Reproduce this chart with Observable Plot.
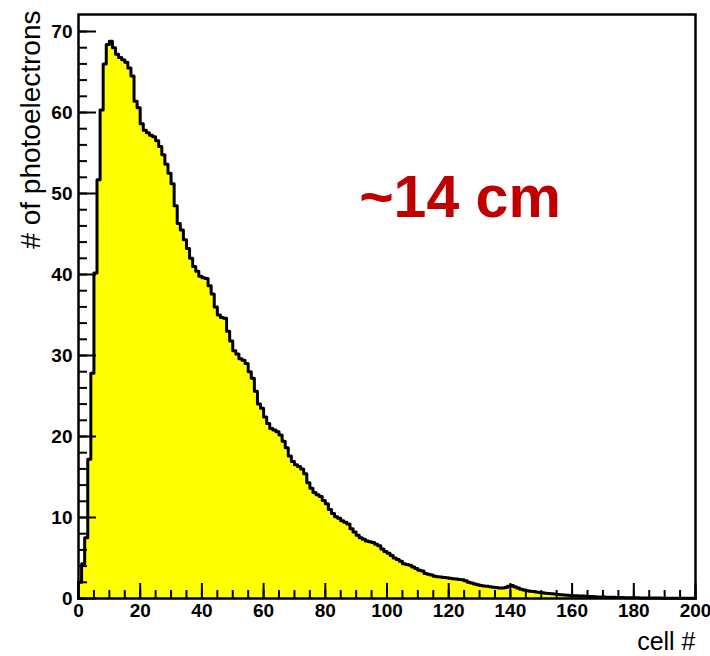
<!DOCTYPE html>
<html>
<head>
<meta charset="utf-8">
<script src="https://cdn.jsdelivr.net/npm/d3@7"></script>
<script src="https://cdn.jsdelivr.net/npm/@observablehq/plot@0.6"></script>
<style>
  html, body { margin: 0; padding: 0; background: #fff; }
  #chart { width: 710px; height: 656px; }
</style>
</head>
<body>
<div id="chart"></div>
<script>
// Histogram content: number of photoelectrons per cell (bins of width 1, cells 0..199)
const counts = [
  2, 4.3, 7.5, 17.2, 27.8, 40.2, 51.7, 60.3, 66, 68.4,
  68.8, 68, 67.2, 66.8, 66.5, 66.2, 65.5, 64.5, 61.4, 60.6,
  58.6, 57.8, 57.5, 57.2, 57, 56.5, 55.8, 54.8, 53.6, 52.5,
  51.2, 48.5, 46.3, 45.5, 44.3, 43.2, 42, 41, 40.4, 39.8,
  39.6, 39.5, 38.6, 37.6, 36, 35, 34.7, 34.6, 33, 31.8,
  30.6, 30.2, 29.6, 29.4, 29, 28, 27.2, 25.6, 24, 23.5,
  22.4, 21.6, 21, 20.8, 20.6, 20.2, 19.4, 18.6, 17.6, 16.9,
  16.5, 16.3, 16, 15.4, 14.3, 13.6, 13.1, 12.8, 12.6, 12.1,
  11.7, 11, 10.5, 10.1, 9.9, 9.6, 9.4, 9.2, 8.6, 8.2,
  7.8, 7.5, 7.3, 7.1, 7.0, 6.9, 6.7, 6.5, 6.1, 5.8,
  5.6, 5.3, 5.0, 4.8, 4.6, 4.3, 4.2, 4.1, 3.9, 3.7,
  3.5, 3.4, 3.1, 3.0, 2.9, 2.75, 2.7, 2.65, 2.6, 2.55,
  2.5, 2.45, 2.4, 2.35, 2.3, 2.2, 2.0, 1.9, 1.8, 1.7,
  1.6, 1.55, 1.5, 1.45, 1.4, 1.35, 1.3, 1.3, 1.35, 1.5,
  1.6, 1.45, 1.3, 1.15, 1.05, 0.95, 0.9, 0.85, 0.8, 0.75,
  0.7, 0.65, 0.62, 0.58, 0.55, 0.5, 0.46, 0.43, 0.4, 0.38,
  0.35, 0.33, 0.3, 0.3, 0.28, 0.26, 0.24, 0.22, 0.2, 0.19,
  0.18, 0.16, 0.15, 0.14, 0.13, 0.12, 0.11, 0.1, 0.1, 0.09,
  0.08, 0.08, 0.07, 0.07, 0.06, 0.06, 0.05, 0.05, 0.05, 0.04,
  0.04, 0.04, 0.03, 0.03, 0.03, 0.03, 0.02, 0.02, 0.02, 0.02
];
const binWidth = 1;
const xDomain = [0, 200];
const yDomain = [0, 72.1];
const xMajorTicks = [0, 20, 40, 60, 80, 100, 120, 140, 160, 180, 200];
const xMinorTicks = d3.range(0, 201, 5);
const yMajorTicks = [0, 10, 20, 30, 40, 50, 60, 70];
const yMinorTicks = d3.range(0, 72, 2);
const xLabel = "cell #";
const yLabel = "# of photoelectrons";
const annotation = "~14 cm";

// step outline points: left edge of every bin, plus closing edge
const points = [{x: 0, v: 0}]
  .concat(counts.map((v, i) => ({x: i * binWidth, v})))
  .concat([{x: counts.length * binWidth, v: counts[counts.length - 1]}]);

const font = "'Liberation Sans', Arial, Helvetica, sans-serif";

const chart = Plot.plot({
  width: 710,
  height: 656,
  marginLeft: 78,
  marginRight: 15,
  marginTop: 14,
  marginBottom: 58,
  style: {fontFamily: font, background: "#fff", color: "#000"},
  x: {domain: xDomain, axis: null},
  y: {domain: yDomain, axis: null},
  marks: [
    Plot.areaY(points, {x: "x", y: "v", curve: "step-after", fill: "#ffff00"}),
    Plot.lineY(points, {x: "x", y: "v", curve: "step-after", stroke: "#000", strokeWidth: 3}),
    // inward ticks
    Plot.axisY(yMinorTicks, {anchor: "left", tickSize: -9, strokeWidth: 2, fill: "none", label: null}),
    Plot.axisY(yMajorTicks, {anchor: "left", tickSize: -18, strokeWidth: 2, fill: "none", label: null}),
    Plot.axisX(xMinorTicks, {anchor: "bottom", tickSize: -8, strokeWidth: 2, fill: "none", label: null}),
    Plot.axisX(xMajorTicks, {anchor: "bottom", tickSize: -15, strokeWidth: 2, fill: "none", label: null}),
    // tick labels
    Plot.axisY(yMajorTicks, {anchor: "left", tickSize: 0, tickPadding: 6, fontSize: 19, fontWeight: "bold", label: null}),
    Plot.axisX(xMajorTicks, {anchor: "bottom", tickSize: 0, tickPadding: 5, fontSize: 19, fontWeight: "bold", label: null}),
    Plot.frame({stroke: "#000", strokeWidth: 2.5}),
    // axis titles
    Plot.text([xLabel], {text: d => d, frameAnchor: "bottom-right", textAnchor: "end", lineAnchor: "middle", dy: 43, fontSize: 25}),
    Plot.text([yLabel], {text: d => d, frameAnchor: "top-left", rotate: -90, textAnchor: "end", lineAnchor: "middle", dx: -47, dy: -4, fontSize: 28}),
    // annotation
    Plot.text([annotation], {text: d => d, frameAnchor: "top", dx: 73, dy: 184, lineAnchor: "middle", fontSize: 59, fontWeight: "bold", fill: "#c00000"})
  ]
});
document.getElementById("chart").appendChild(chart);
</script>
</body>
</html>
